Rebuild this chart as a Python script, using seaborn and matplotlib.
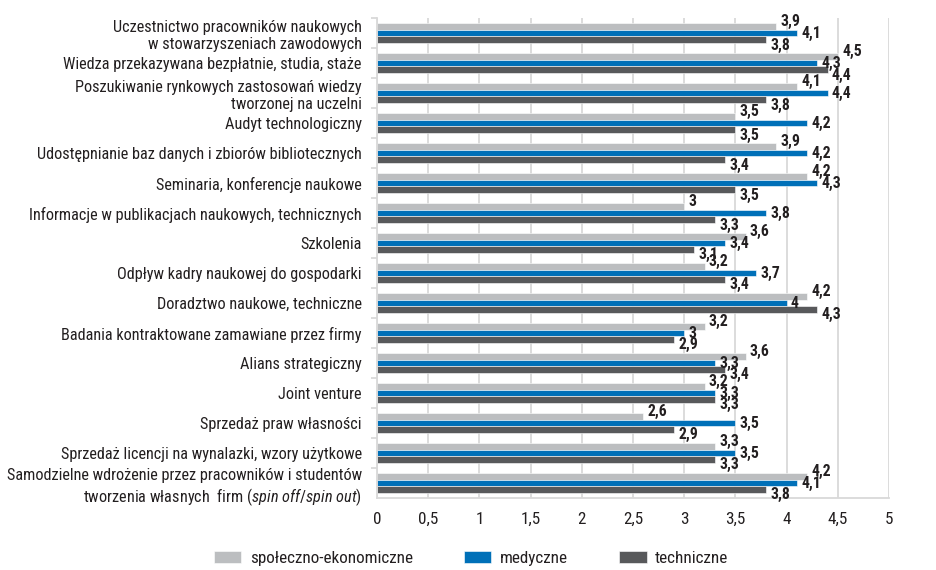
import matplotlib
matplotlib.use("Agg")
import matplotlib.pyplot as plt
import seaborn as sns
import pandas as pd
import numpy as np
from matplotlib.ticker import FixedLocator, FuncFormatter
from matplotlib import font_manager

categories = [
    "Uczestnictwo pracowników naukowych\nw stowarzyszeniach zawodowych",
    "Wiedza przekazywana bezpłatnie, studia, staże",
    "Poszukiwanie rynkowych zastosowań wiedzy\ntworzonej na uczelni",
    "Audyt technologiczny",
    "Udostępnianie baz danych i zbiorów bibliotecznych",
    "Seminaria, konferencje naukowe",
    "Informacje w publikacjach naukowych, technicznych",
    "Szkolenia",
    "Odpływ kadry naukowej do gospodarki",
    "Doradztwo naukowe, techniczne",
    "Badania kontraktowane zamawiane przez firmy",
    "Alians strategiczny",
    "Joint venture",
    "Sprzedaż praw własności",
    "Sprzedaż licencji na wynalazki, wzory użytkowe",
    "Samodzielne wdrożenie przez pracowników i studentów\ntworzenia własnych  firm ($\\it{spin\\ off/spin\\ out}$)",
]
series_names = ["społeczno-ekonomiczne", "medyczne", "techniczne"]
spol_ekon = [3.9, 4.5, 4.1, 3.5, 3.9, 4.2, 3.0, 3.6, 3.2, 4.2, 3.2, 3.6, 3.2, 2.6, 3.3, 4.2]
medyczne = [4.1, 4.3, 4.4, 4.2, 4.2, 4.3, 3.8, 3.4, 3.7, 4.0, 3.0, 3.3, 3.3, 3.5, 3.5, 4.1]
techniczne = [3.8, 4.4, 3.8, 3.5, 3.4, 3.5, 3.3, 3.1, 3.4, 4.3, 2.9, 3.4, 3.3, 2.9, 3.3, 3.8]
x_ticks = [0, 0.5, 1, 1.5, 2, 2.5, 3, 3.5, 4, 4.5, 5]
colors = ["#bcbec0", "#0070b8", "#58595b"]

available = {f.name for f in font_manager.fontManager.ttflist}
base = "Roboto"
for cand in ["Liberation Sans Narrow", "Roboto Condensed", "Open Sans Condensed",
             "Noto Sans Condensed", "Open Sans", "Roboto"]:
    if cand in available:
        base = cand
        break

sns.set_theme(style="white")
plt.rcParams["font.family"] = [base, "DejaVu Sans"]
plt.rcParams["mathtext.fontset"] = "custom"
plt.rcParams["mathtext.it"] = base + ":italic"
plt.rcParams["mathtext.rm"] = base

fig = plt.figure(figsize=(9.37, 5.70), dpi=100)

# calibrate font size so that the longest label has the reference's width
probe = fig.text(0, 0, "Udostępnianie baz danych i zbiorów bibliotecznych", fontsize=12)
renderer = fig.canvas.get_renderer()
w = probe.get_window_extent(renderer).width
probe.remove()
fs = 12 * 326.0 / w
fs_val = fs * 0.97

df = pd.DataFrame({
    "cat": categories * 3,
    "series": np.repeat(series_names, len(categories)),
    "value": spol_ekon + medyczne + techniczne,
})

ax = fig.add_axes([0.4023, 0.126, 0.5466, 0.842])

sns.barplot(data=df, y="cat", x="value", hue="series", order=categories,
            hue_order=series_names, palette=colors, saturation=1, orient="h", width=0.65,
            edgecolor="white", linewidth=0.4, ax=ax, legend=True)

ax.set_xlim(0, 5)
ax.set_ylim(len(categories) - 0.5, -0.5)
ax.xaxis.set_major_locator(FixedLocator(x_ticks))
ax.xaxis.set_major_formatter(FuncFormatter(lambda v, p: f"{v:g}".replace(".", ",")))
ax.grid(axis="x", color="#d9d9d9", linewidth=1.3)
ax.set_axisbelow(True)
ax.set_xlabel("")
ax.set_ylabel("")
for s in ["top", "right"]:
    ax.spines[s].set_visible(False)
for s in ["left", "bottom"]:
    ax.spines[s].set_color("#d9d9d9")
    ax.spines[s].set_linewidth(1.3)
ax.tick_params(axis="x", labelsize=fs * 1.05, colors="#231f20", length=0, pad=10)
ax.tick_params(axis="y", labelsize=fs, colors="#231f20", length=0, pad=11)
ax.set_yticks(np.arange(len(categories)) - 0.5, minor=True)
ax.tick_params(axis="y", which="minor", length=4, color="#d9d9d9", width=1.3, left=True)

offsets = [-4.0, 0.0, 3.8]
for i, cont in enumerate(ax.containers):
    for bar in cont:
        v = bar.get_width()
        y = bar.get_y() + bar.get_height() / 2
        ax.annotate(f"{v:g}".replace(".", ","), xy=(v, y), xytext=(3, -offsets[i]),
                    textcoords="offset points", ha="left", va="center",
                    fontsize=fs_val, fontweight="bold", color="#231f20")

handles, labels = ax.get_legend_handles_labels()
ax.legend(handles, labels, loc="upper center", bbox_to_anchor=(0.184, -0.078),
          ncol=3, frameon=False, fontsize=fs * 1.05, handlelength=1.6, handleheight=0.7,
          columnspacing=3.0, handletextpad=0.5, labelcolor="#231f20")

fig.savefig("out.png", dpi=100)
